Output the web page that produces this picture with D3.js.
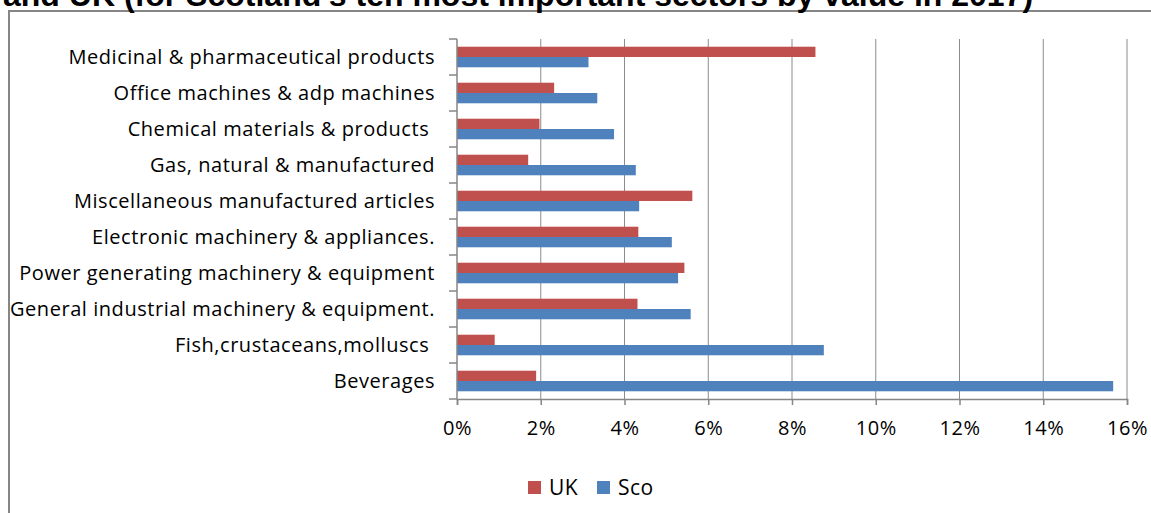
<!DOCTYPE html>
<html>
<head>
<meta charset="utf-8">
<script src="https://cdn.jsdelivr.net/npm/d3@7"></script>
<style>
  body { margin: 0; background: #fff; }
  svg text { white-space: pre; }
</style>
</head>
<body>
<div class="chart"></div>
<script>
// sectors, top to bottom as drawn
var sectors = [
  "Medicinal & pharmaceutical products",
  "Office machines & adp machines",
  "Chemical materials & products ",
  "Gas, natural & manufactured",
  "Miscellaneous manufactured articles",
  "Electronic machinery & appliances.",
  "Power generating machinery & equipment",
  "General industrial machinery & equipment.",
  "Fish,crustaceans,molluscs ",
  "Beverages"
];
// share of exports, %
var ukValues  = [8.56, 2.32, 1.97, 1.70, 5.62, 4.33, 5.43, 4.31, 0.90, 1.89];
var scoValues = [3.14, 3.35, 3.75, 4.27, 4.35, 5.13, 5.28, 5.58, 8.76, 15.67];
var seriesNames = ["UK", "Sco"];
var seriesColors = ["#C0504D", "#4F81BD"];
var xTicks = [0, 2, 4, 6, 8, 10, 12, 14, 16];
var titleText = "and UK (for Scotland's ten most important sectors by value in 2017)";

var svgWidth = 1151, svgHeight = 513;
var margin = { top: 39, right: 24, bottom: 114, left: 457 };
var width = svgWidth - margin.left - margin.right;
var height = svgHeight - margin.top - margin.bottom;
var labelFont = "Open Sans, sans-serif";

var svg = d3.select(".chart").append("svg")
  .attr("width", svgWidth)
  .attr("height", svgHeight)
  .style("display", "block");

// outer frame + cut-off title
svg.append("rect")
  .attr("x", 9).attr("y", 11)
  .attr("width", 1160).attr("height", 520)
  .attr("fill", "none")
  .attr("stroke", "#868686")
  .attr("stroke-width", 2);

svg.append("text")
  .attr("x", 3).attr("y", 6)
  .attr("font-family", "Liberation Sans, Arial, sans-serif")
  .attr("font-weight", "bold")
  .attr("font-size", 32)
  .attr("fill", "#000")
  .text(titleText);

var chartGroup = svg.append("g")
  .attr("transform", `translate(${margin.left}, ${margin.top})`);

var table = sectors.map(function(s, i) {
  return { sector: s, values: [ukValues[i], scoValues[i]] };
});

var xScale = d3.scaleLinear().domain([0, 16]).range([0, width]);
var yScale = d3.scaleBand().domain(sectors).range([0, height]).paddingInner(0).paddingOuter(0);
// gap width 150%: 2 bars + 1.5 bar of gap per band
var barH = yScale.bandwidth() / 3.5;
var inner = d3.scaleBand().domain(seriesNames).range([0.75 * barH, 2.75 * barH]);

// gridlines
chartGroup.selectAll(".grid")
  .data(xTicks.slice(1))
  .enter().append("line")
  .attr("x1", d => xScale(d)).attr("x2", d => xScale(d))
  .attr("y1", 0).attr("y2", height)
  .attr("stroke", "#8c8c8c")
  .attr("stroke-width", 1);

// bars
var groups = chartGroup.selectAll(".cat")
  .data(table)
  .enter().append("g")
  .attr("transform", d => `translate(0, ${yScale(d.sector)})`);

groups.selectAll("rect")
  .data(d => d.values.map((v, j) => ({ key: seriesNames[j], value: v, color: seriesColors[j] })))
  .enter().append("rect")
  .attr("x", 0)
  .attr("y", d => inner(d.key))
  .attr("width", d => xScale(d.value))
  .attr("height", inner.bandwidth())
  .attr("fill", d => d.color);

// x axis
var bottomAxis = d3.axisBottom(xScale)
  .tickValues(xTicks)
  .tickFormat(d => d + "%")
  .tickSize(6)
  .tickPadding(16);

var xAxis = chartGroup.append("g")
  .attr("transform", `translate(0, ${height})`)
  .call(bottomAxis);
xAxis.select(".domain").attr("stroke", "#868686").attr("stroke-width", 1.5);
xAxis.selectAll(".tick line").attr("stroke", "#868686").attr("stroke-width", 1.5);
xAxis.selectAll("text")
  .attr("font-family", labelFont)
  .attr("font-size", 20)
  .attr("letter-spacing", 0.5)
  .attr("fill", "#000");

// y axis (ticks at band edges)
var leftAxis = chartGroup.append("g");
leftAxis.append("line")
  .attr("x1", 0).attr("x2", 0).attr("y1", 0).attr("y2", height)
  .attr("stroke", "#868686").attr("stroke-width", 1.5);
leftAxis.selectAll(".ytick")
  .data(sectors.concat([null]))
  .enter().append("line")
  .attr("x1", -8).attr("x2", 0)
  .attr("y1", (d, i) => i * yScale.step())
  .attr("y2", (d, i) => i * yScale.step())
  .attr("stroke", "#868686").attr("stroke-width", 1.5);
leftAxis.selectAll(".ylabel")
  .data(sectors)
  .enter().append("text")
  .attr("x", -22)
  .attr("y", d => yScale(d) + yScale.bandwidth() / 2)
  .attr("dy", "0.35em")
  .attr("text-anchor", "end")
  .attr("font-family", labelFont)
  .attr("font-size", 20)
  .attr("letter-spacing", 0.55)
  .attr("fill", "#000")
  .text(d => d);

// legend
var legend = svg.append("g").attr("transform", "translate(528, 481)");
var legItems = legend.selectAll("g")
  .data(seriesNames)
  .enter().append("g")
  .attr("transform", (d, i) => `translate(${i * 69}, 0)`);
legItems.append("rect")
  .attr("width", 13).attr("height", 13)
  .attr("fill", (d, i) => seriesColors[i]);
legItems.append("text")
  .attr("x", 21).attr("y", 7)
  .attr("dy", "0.35em")
  .attr("font-family", labelFont)
  .attr("font-size", 21)
  .attr("letter-spacing", 0.5)
  .attr("fill", "#000")
  .text(d => d);
</script>
</body>
</html>
